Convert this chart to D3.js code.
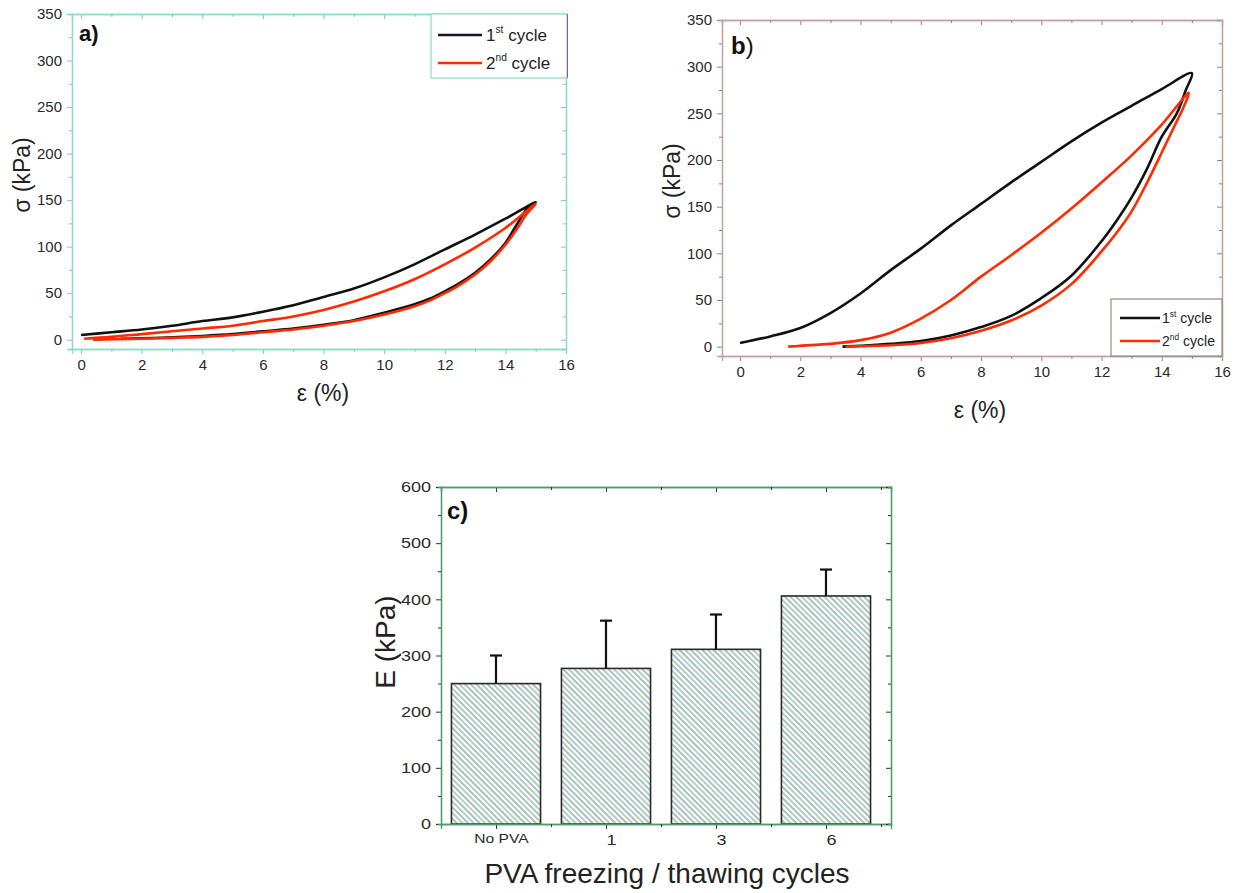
<!DOCTYPE html>
<html>
<head>
<meta charset="utf-8">
<script src="https://cdn.jsdelivr.net/npm/d3@7"></script>
<style>
  body { margin: 0; background: #fff; }
  text { font-family: Arial, "Liberation Sans", sans-serif; }
</style>
</head>
<body>
<svg id="chart" width="1251" height="893"></svg>
<script>
// ---- data (strain %, stress kPa), loading then unloading ----
var aCycle1 = [[0,5],[1,8],[2,11],[3,15],[4,20],[5,24],[6,30],[7,37],[8,46],[9,55],[10,67],[11,81],[12,97],[13,113],[14,130],[15,148],
  [14.7,140],[14.4,125],[14,104],[13.5,86],[13,72],[12.5,61],[12,52],[11.5,44],[11,38],[10,29],[9,21],[8,16],[7,12],[6,9],[5,6],[4,4],[3,2.5],[2,1.5],[1.3,1]];
var aCycle2 = [[0.1,1],[1,3],[2,6],[3,9],[4,12],[5,15],[6,20],[7,25],[8,32],[9,41],[10,52],[11,65],[12,81],[13,99],[14,120],[15,146],
  [14.7,135],[14.4,120],[14,102],[13.5,84],[13,70],[12.5,59],[12,50],[11.5,42],[11,36],[10,27],[9,20],[8,15],[7,11],[6,8],[5,5],[4,3],[3,2],[2,1],[1,0.5],[0.4,0]];
var bCycle1 = [[0,4],[1,11],[2,20],[3,36],[4,57],[5,82],[6,105],[7,130],[8,153],[9,176],[10,198],[11,220],[12,240],[13,258],[14,276],[15,293],
  [14.8,275],[14.5,250],[14,225],[13.5,190],[13,160],[12.5,135],[12,113],[11,76],[10,52],[9,33],[8,21],[7,12],[6,6],[5,3],[4,1],[3.4,0]];
var bCycle2 = [[1.6,0],[2,1],[3,3],[4,7],[5,15],[6,30],[7,50],[8,75],[9,98],[10,122],[11,148],[12,176],[13,205],[14,238],[14.9,272],
  [14.7,255],[14.4,235],[14,208],[13.5,175],[13,145],[12.5,122],[12,102],[11,67],[10,44],[9,28],[8,17],[7,9],[6,4],[5,1.5],[4,0.5],[3.5,0]];

var cycles = ["1st cycle", "2nd cycle"];
var cycleColors = ["#111111", "#ff2a00"];

var pvaCycles = ["No PVA", "1", "3", "6"];
var modulus = [250, 277, 311, 406];
var modulusErr = [50, 85, 62, 47];

var strainTicks = [0,2,4,6,8,10,12,14,16];
var strainMinor = [1,3,5,7,9,11,13,15];
var stressTicks = [0,50,100,150,200,250,300,350];
var stressMinor = [25,75,125,175,225,275,325];
var modTicks = [0,100,200,300,400,500,600];
var modMinor = [50,150,250,350,450,550];

var svg = d3.select("#chart");

// hatch pattern for bars
var defs = svg.append("defs");
var pat = defs.append("pattern")
  .attr("id", "hatch")
  .attr("patternUnits", "userSpaceOnUse")
  .attr("width", 8).attr("height", 8)
  .attr("patternTransform", "rotate(-45)");
pat.append("line").attr("x1", 1).attr("x2", 1).attr("y1", 0).attr("y2", 8)
  .attr("stroke", "#78c088").attr("stroke-width", 1.3);
pat.append("line").attr("x1", 5).attr("x2", 5).attr("y1", 0).attr("y2", 8)
  .attr("stroke", "#62729a").attr("stroke-width", 1);

// draws a boxed frame with ticks on all four sides
function frame(x, y, o) {
  var xd = x.domain(), yd = y.domain();
  var fs = o.fontSize || 14;

  var bottom = svg.append("g").attr("transform", "translate(0," + y(yd[0]) + ")");
  bottom.call(d3.axisBottom(x).tickValues(o.xMajor).tickSize(5).tickPadding(5).tickFormat(o.xFmt || d3.format("d")));
  if (o.xMinor) bottom.append("g").call(d3.axisBottom(x).tickValues(o.xMinor).tickSize(3).tickFormat(""));

  var top = svg.append("g").attr("transform", "translate(0," + y(yd[1]) + ")");
  top.call(d3.axisTop(x).tickValues(o.xMajor).tickSize(-5).tickFormat(""));
  if (o.xMinor) top.append("g").call(d3.axisTop(x).tickValues(o.xMinor).tickSize(-3).tickFormat(""));

  var left = svg.append("g").attr("transform", "translate(" + x(xd[0]) + ",0)");
  left.call(d3.axisLeft(y).tickValues(o.yMajor).tickSize(5).tickPadding(5));
  if (o.yMinor) left.append("g").call(d3.axisLeft(y).tickValues(o.yMinor).tickSize(3).tickFormat(""));

  var right = svg.append("g").attr("transform", "translate(" + x(xd[1]) + ",0)");
  right.call(d3.axisRight(y).tickValues(o.yMajor).tickSize(-5).tickFormat(""));
  if (o.yMinor) right.append("g").call(d3.axisRight(y).tickValues(o.yMinor).tickSize(-3).tickFormat(""));

  [bottom, top, left, right].forEach(function(g) {
    g.selectAll(".domain").attr("stroke", o.frameColor).attr("stroke-width", 1.3);
    g.selectAll(".tick line").attr("stroke", o.tickColor).attr("stroke-width", 1);
    g.selectAll("text").attr("fill", "#2a2a2a").style("font-size", fs + "px")
      .style("font-family", "Arial, 'Liberation Sans', sans-serif");
  });
  return {bottom: bottom, left: left};
}

function supLabel(g, x, y, base, sup, rest, fs) {
  var t = g.append("text").attr("x", x).attr("y", y).attr("fill", "#222").style("font-size", fs + "px");
  t.append("tspan").text(base);
  t.append("tspan").attr("dy", -fs * 0.45).style("font-size", (fs * 0.6) + "px").text(sup);
  t.append("tspan").attr("dy", fs * 0.45).text(rest);
}

var line = d3.line().curve(d3.curveCatmullRom.alpha(0.5));

// ---------------- panel a ----------------
var xa = d3.scaleLinear().domain([-0.3, 16]).range([72, 566]);
var ya = d3.scaleLinear().domain([-10, 350]).range([349, 14]);
frame(xa, ya, {xMajor: strainTicks, xMinor: strainMinor, yMajor: stressTicks, yMinor: stressMinor,
  frameColor: "#8fd9c6", tickColor: "#7fc8b8", fontSize: 15});

[aCycle1, aCycle2].forEach(function(d, i) {
  svg.append("path")
    .attr("d", line.x(function(p) { return xa(p[0]); }).y(function(p) { return ya(p[1]); })(d))
    .attr("fill", "none").attr("stroke", cycleColors[i]).attr("stroke-width", 2.6);
});

svg.append("text").attr("x", 79).attr("y", 41).attr("font-weight", "bold")
  .style("font-size", "22px").attr("fill", "#111").text("a)");
svg.append("text").attr("transform", "translate(30,175) rotate(-90)").attr("text-anchor", "middle")
  .style("font-size", "23px").attr("fill", "#222").text("σ (kPa)");
svg.append("text").attr("x", 323).attr("y", 401).attr("text-anchor", "middle")
  .style("font-size", "23px").attr("fill", "#222").text("ε (%)");

// legend a
var legA = svg.append("g");
legA.append("rect").attr("x", 431).attr("y", 14).attr("width", 136).attr("height", 64)
  .attr("fill", "#fff").attr("stroke", "#8fd9c6").attr("stroke-width", 1.2);
legA.append("rect").attr("x", 567).attr("y", 14).attr("width", 1).attr("height", 64).attr("fill", "#8a5aa8");
cycles.forEach(function(c, i) {
  var yy = 35 + i * 28;
  legA.append("line").attr("x1", 438).attr("x2", 482).attr("y1", yy).attr("y2", yy)
    .attr("stroke", i === 0 ? "#1a1030" : cycleColors[i]).attr("stroke-width", 2.5);
  supLabel(legA, 486, yy + 6, i === 0 ? "1" : "2", i === 0 ? "st" : "nd", " cycle", 17);
});

// ---------------- panel b ----------------
var xb = d3.scaleLinear().domain([-0.6, 16]).range([722, 1222]);
var yb = d3.scaleLinear().domain([-10, 350]).range([356, 20]);
frame(xb, yb, {xMajor: strainTicks, xMinor: strainMinor, yMajor: stressTicks, yMinor: stressMinor,
  frameColor: "#c9a0a0", tickColor: "#7a8a8a", fontSize: 15});

[bCycle1, bCycle2].forEach(function(d, i) {
  svg.append("path")
    .attr("d", line.x(function(p) { return xb(p[0]); }).y(function(p) { return yb(p[1]); })(d))
    .attr("fill", "none").attr("stroke", cycleColors[i]).attr("stroke-width", 2.6);
});

var bLab = svg.append("text").attr("x", 731).attr("y", 54).attr("fill", "#111").style("font-size", "24px");
bLab.append("tspan").attr("font-weight", "bold").text("b");
bLab.append("tspan").text(")");
svg.append("text").attr("transform", "translate(680,181) rotate(-90)").attr("text-anchor", "middle")
  .style("font-size", "23px").attr("fill", "#222").text("σ (kPa)");
svg.append("text").attr("x", 980).attr("y", 418).attr("text-anchor", "middle")
  .style("font-size", "23px").attr("fill", "#222").text("ε (%)");

// legend b
var legB = svg.append("g");
legB.append("rect").attr("x", 1111).attr("y", 299).attr("width", 111).attr("height", 57)
  .attr("fill", "#fff").attr("stroke", "#7a7a6a").attr("stroke-width", 1);
cycles.forEach(function(c, i) {
  var yy = 318 + i * 23;
  legB.append("line").attr("x1", 1120).attr("x2", 1160).attr("y1", yy).attr("y2", yy)
    .attr("stroke", cycleColors[i]).attr("stroke-width", 2.5);
  supLabel(legB, 1162, yy + 5, i === 0 ? "1" : "2", i === 0 ? "st" : "nd", " cycle", 14);
});

// ---------------- panel c ----------------
var xc = d3.scaleLinear().domain([-0.5, 3.591]).range([441, 891]);
var yc = d3.scaleLinear().domain([0, 600]).range([824, 487]);
var half = 0.405;

svg.append("g").selectAll("rect").data(modulus).enter().append("rect")
  .attr("x", function(d, i) { return xc(i - half); })
  .attr("y", function(d) { return yc(d); })
  .attr("width", function(d, i) { return xc(i + half) - xc(i - half); })
  .attr("height", function(d) { return yc(0) - yc(d); })
  .attr("fill", "url(#hatch)").attr("stroke", "#2a2a2a").attr("stroke-width", 1.6);

var err = svg.append("g").attr("stroke", "#111").attr("stroke-width", 2.2);
modulus.forEach(function(d, i) {
  err.append("line").attr("x1", xc(i)).attr("x2", xc(i))
    .attr("y1", yc(d)).attr("y2", yc(d + modulusErr[i]));
  err.append("line").attr("x1", xc(i) - 6).attr("x2", xc(i) + 6)
    .attr("y1", yc(d + modulusErr[i])).attr("y2", yc(d + modulusErr[i]));
});

var fc = frame(xc, yc, {xMajor: [0,1,2,3], xMinor: [0.5,1.5,2.5,3.5], yMajor: modTicks, yMinor: modMinor,
  frameColor: "#4f9a66", tickColor: "#333", fontSize: 15, xFmt: function(i) { return pvaCycles[i]; }});
fc.bottom.selectAll(".tick text").attr("dx", 5)
  .style("font-size", function(d) { return d === 0 ? "13px" : "15px"; });
// tick labels in this panel are drawn wide
[fc.left, fc.bottom].forEach(function(g) {
  g.selectAll(".tick text").each(function() {
    var w = this.getComputedTextLength();
    if (w > 0) d3.select(this).attr("textLength", w * 1.2).attr("lengthAdjust", "spacingAndGlyphs");
  });
});

svg.append("text").attr("x", 447).attr("y", 519).attr("font-weight", "bold")
  .style("font-size", "24px").attr("fill", "#111").text("c)");
svg.append("text").attr("transform", "translate(395,642) rotate(-90)").attr("text-anchor", "middle")
  .style("font-size", "28px").attr("fill", "#222").text("E (kPa)");
svg.append("text").attr("x", 667).attr("y", 883).attr("text-anchor", "middle")
  .style("font-size", "28px").attr("fill", "#222").text("PVA freezing / thawing cycles");
</script>
</body>
</html>
